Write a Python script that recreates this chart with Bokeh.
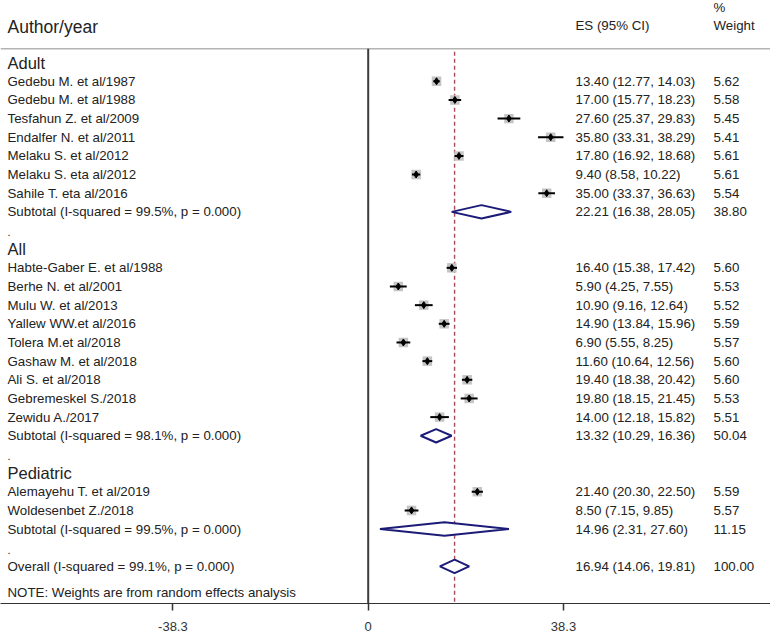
from bokeh.plotting import figure
from bokeh.models import Range1d, FixedTicker, ColumnDataSource
from bokeh.core.properties import value
from bokeh.embed import file_html
from bokeh.resources import INLINE

# ---------------- data ----------------
groups = ["Adult", "All", "Pediatric"]

adult_labels = ["Gedebu M. et al/1987", "Gedebu M. et al/1988", "Tesfahun Z. et al/2009",
                "Endalfer N. et al/2011", "Melaku S. et al/2012", "Melaku S. eta al/2012",
                "Sahile T. eta al/2016"]
adult_es = [13.40, 17.00, 27.60, 35.80, 17.80, 9.40, 35.00]
adult_lo = [12.77, 15.77, 25.37, 33.31, 16.92, 8.58, 33.37]
adult_hi = [14.03, 18.23, 29.83, 38.29, 18.68, 10.22, 36.63]
adult_w = [5.62, 5.58, 5.45, 5.41, 5.61, 5.61, 5.54]

all_labels = ["Habte-Gaber E. et al/1988", "Berhe N. et al/2001", "Mulu W. et al/2013",
              "Yallew WW.et al/2016", "Tolera M.et al/2018", "Gashaw M. et al/2018",
              "Ali S. et al/2018", "Gebremeskel S./2018", "Zewidu A./2017"]
all_es = [16.40, 5.90, 10.90, 14.90, 6.90, 11.60, 19.40, 19.80, 14.00]
all_lo = [15.38, 4.25, 9.16, 13.84, 5.55, 10.64, 18.38, 18.15, 12.18]
all_hi = [17.42, 7.55, 12.64, 15.96, 8.25, 12.56, 20.42, 21.45, 15.82]
all_w = [5.60, 5.53, 5.52, 5.59, 5.57, 5.60, 5.60, 5.53, 5.51]

ped_labels = ["Alemayehu T. et al/2019", "Woldesenbet Z./2018"]
ped_es = [21.40, 8.50]
ped_lo = [20.30, 7.15]
ped_hi = [22.50, 9.85]
ped_w = [5.59, 5.57]

sub_labels = ["Subtotal  (I-squared = 99.5%, p = 0.000)",
              "Subtotal  (I-squared = 98.1%, p = 0.000)",
              "Subtotal  (I-squared = 99.5%, p = 0.000)"]
sub_es = [22.21, 13.32, 14.96]
sub_lo = [16.38, 10.29, 2.31]
sub_hi = [28.05, 16.36, 27.60]
sub_w = [38.80, 50.04, 11.15]

overall_label = "Overall  (I-squared = 99.1%, p = 0.000)"
overall_es = 16.94
overall_lo = 14.06
overall_hi = 19.81
overall_w = 100.00

tick_values = [-38.3, 0, 38.3]
tick_labels = ["-38.3", "0", "38.3"]

# ---------------- layout helpers ----------------
W, H = 770, 633
X0_PX = 367.7      # pixel of x = 0
PPU = 5.099        # pixels per unit
X_LEFT = -X0_PX / PPU
X_RIGHT = (W - X0_PX) / PPU
ROW_TOP = -3.328
ROW_BOTTOM = 28.99


def px2x(px):
    return (px - X0_PX) / PPU


FONT = value("Liberation Sans")
TXT = "#222222"
NAVY = "#1c1c78"

# build rows
study_rows, study_es, study_lo, study_hi, study_w, study_lab = [], [], [], [], [], []
sub_rows = []
header_rows = []
dot_rows = []
r = 0
for g, labs, es, lo, hi, w in [(groups[0], adult_labels, adult_es, adult_lo, adult_hi, adult_w),
                               (groups[1], all_labels, all_es, all_lo, all_hi, all_w),
                               (groups[2], ped_labels, ped_es, ped_lo, ped_hi, ped_w)]:
    header_rows.append(r)
    r += 1
    for i in range(len(labs)):
        study_rows.append(r)
        study_lab.append(labs[i])
        study_es.append(es[i])
        study_lo.append(lo[i])
        study_hi.append(hi[i])
        study_w.append(w[i])
        r += 1
    sub_rows.append(r)
    r += 1
    dot_rows.append(r)
    r += 1
overall_row = r
note_row = r + 1.4

p = figure(width=W, height=H, output_backend="svg", toolbar_location=None,
           x_range=Range1d(X_LEFT, X_RIGHT), y_range=Range1d(ROW_BOTTOM, ROW_TOP),
           y_axis_location=None, min_border_left=0, min_border_right=0,
           min_border_top=0, min_border_bottom=29)
p.outline_line_color = None
p.xgrid.visible = False
p.ygrid.visible = False
p.background_fill_color = "white"
p.border_fill_color = "white"

# top rule
LINE_Y = -0.74
p.segment(x0=[X_LEFT], y0=[LINE_Y], x1=[X_RIGHT], y1=[LINE_Y], line_color="#b4b4b4", line_width=1.5)
# null line at 0
p.segment(x0=[0], y0=[LINE_Y], x1=[0], y1=[ROW_BOTTOM], line_color="#3c3c3c", line_width=2)
# overall dashed line
p.segment(x0=[overall_es], y0=[-0.58], x1=[overall_es], y1=[ROW_BOTTOM],
          line_color="#a8485a", line_width=1.4, line_dash="4 3")

# study markers
src = ColumnDataSource(dict(y=study_rows, es=study_es, lo=study_lo, hi=study_hi,
                            size=[9.5 * (w / 5.6) ** 0.5 for w in study_w]))
p.scatter(x="es", y="y", size="size", marker="square", source=src,
          fill_color="#c4c4c4", line_color=None)
p.segment(x0="lo", y0="y", x1="hi", y1="y", source=src, line_color="black", line_width=2)
p.scatter(x="es", y="y", size=7, marker="diamond", source=src,
          fill_color="black", line_color="black")

# diamonds
HH = 0.36
d_es = sub_es + [overall_es]
d_lo = sub_lo + [overall_lo]
d_hi = sub_hi + [overall_hi]
d_rows = sub_rows + [overall_row]
xs = [[lo, e, hi, e] for lo, e, hi in zip(d_lo, d_es, d_hi)]
ys = [[rr, rr - HH, rr, rr + HH] for rr in d_rows]
p.patches(xs=xs, ys=ys, fill_color="white", line_color=NAVY, line_width=2)

# left text column
LX = px2x(7)
p.text(x=[LX] * len(study_rows), y=study_rows, text=study_lab, text_font=FONT,
       text_font_size="13.3px", text_color=TXT, text_baseline="middle", text_align="left")
p.text(x=[LX] * 3, y=header_rows, text=groups, text_font=FONT,
       text_font_size="16.5px", text_color=TXT, text_baseline="middle", text_align="left")
p.text(x=[LX] * 4, y=sub_rows + [overall_row], text=sub_labels + [overall_label], text_font=FONT,
       text_font_size="13.3px", text_color=TXT, text_baseline="middle", text_align="left")
p.text(x=[LX] * 3, y=[d + 0.1 for d in dot_rows], text=["."] * 3, text_font=FONT,
       text_font_size="11px", text_color=TXT, text_baseline="middle", text_align="left")
p.text(x=[LX], y=[note_row], text=["NOTE: Weights are from random effects analysis"], text_font=FONT,
       text_font_size="13.3px", text_color=TXT, text_baseline="middle", text_align="left")
p.text(x=[LX], y=[-1.9], text=["Author/year"], text_font=FONT,
       text_font_size="17.5px", text_color=TXT, text_baseline="middle", text_align="left")

# right columns
ES_X = px2x(575)
WT_X = px2x(713)
all_rows = study_rows + d_rows
es_txt = ["%.2f (%.2f, %.2f)" % (e, lo, hi) for e, lo, hi in zip(study_es, study_lo, study_hi)] + \
         ["%.2f (%.2f, %.2f)" % (e, lo, hi) for e, lo, hi in zip(d_es, d_lo, d_hi)]
wt_txt = ["%.2f" % w for w in study_w + sub_w + [overall_w]]
p.text(x=[ES_X] * len(all_rows), y=all_rows, text=es_txt, text_font=FONT,
       text_font_size="13.3px", text_color=TXT, text_baseline="middle", text_align="left")
p.text(x=[WT_X] * len(all_rows), y=all_rows, text=wt_txt, text_font=FONT,
       text_font_size="13.3px", text_color=TXT, text_baseline="middle", text_align="left")
p.text(x=[ES_X, WT_X, WT_X], y=[-2.0, -2.0, -2.96], text=["ES (95% CI)", "Weight", "%"],
       text_font=FONT, text_font_size="13.3px", text_color=TXT,
       text_baseline="middle", text_align="left")

# x axis
ax = p.xaxis[0]
ax.ticker = FixedTicker(ticks=tick_values, minor_ticks=[])
ax.major_label_overrides = {v: t for v, t in zip(tick_values, tick_labels)}
ax.axis_line_color = "#333333"
ax.axis_line_width = 1.2
ax.major_tick_in = 0
ax.major_tick_out = 7
ax.major_tick_line_color = "#333333"
ax.major_tick_line_width = 1.5
ax.minor_tick_line_color = None
ax.major_label_standoff = 11
ax.major_label_text_font = "Liberation Sans"
ax.major_label_text_font_size = "13px"
ax.major_label_text_color = "#333333"

open("out.html", "w").write(file_html(p, INLINE))
